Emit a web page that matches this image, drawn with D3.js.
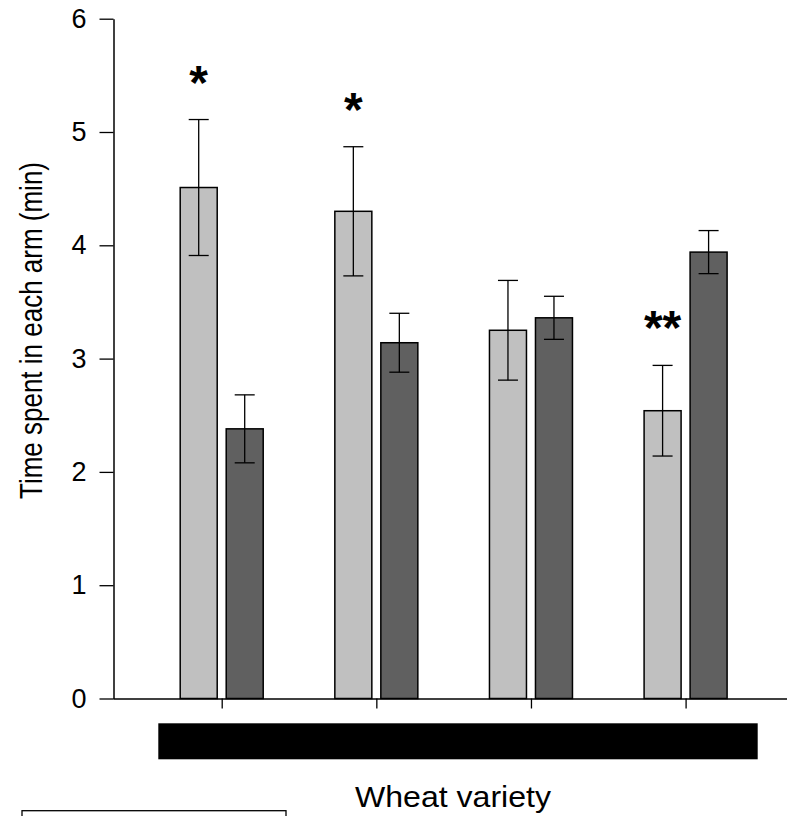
<!DOCTYPE html>
<html>
<head>
<meta charset="utf-8">
<script src="https://cdn.jsdelivr.net/npm/d3@7"></script>
<style>
  body { margin: 0; background: #fff; }
  svg { display: block; font-family: "Liberation Sans", Arial, sans-serif; }
</style>
</head>
<body>
<div id="chart"></div>
<script>
// wheat varieties (unlabelled in the figure), two arms each
const varieties = ["V1", "V2", "V3", "V4"]
const arms = ["light", "dark"]
const lightMean = [4.51, 4.30, 3.25, 2.54]
const lightErr = [0.60, 0.57, 0.44, 0.40]
const darkMean = [2.38, 3.14, 3.36, 3.94]
const darkErr = [0.30, 0.26, 0.19, 0.19]
const signif = ["*", "*", "", "**"]
const yTicks = [0, 1, 2, 3, 4, 5, 6]

const w = 787
const h = 816
const armColor = { light: "#c0c0c0", dark: "#606060" }

const svg = d3.select("#chart").append("svg")
    .attr("width", w)
    .attr("height", h)

const y = d3.scaleLinear().domain([0, 6]).range([698.5, 18.7])
const x = d3.scalePoint().domain(varieties).range([113, 794.3]).padding(0.703)
const xArm = d3.scalePoint().domain(arms).range([-23, 23])
const barW = 37

// build rows for the bars
let rows = []
varieties.forEach((v, i) => {
    rows.push({ v: v, arm: "light", mean: lightMean[i], err: lightErr[i], sig: signif[i] })
    rows.push({ v: v, arm: "dark", mean: darkMean[i], err: darkErr[i], sig: "" })
})

// y axis
const yAxis = svg.append("g")
    .attr("transform", "translate(113.5,0)")
    .call(d3.axisLeft(y).tickValues(yTicks).tickSize(14).tickSizeOuter(0).tickPadding(13).tickFormat(d3.format("d")))
yAxis.attr("font-size", 27).attr("font-family", "'Liberation Sans', Arial, sans-serif")
yAxis.select(".domain").attr("stroke", "#000").attr("stroke-width", 1.5)
yAxis.selectAll(".tick line").attr("stroke", "#000").attr("stroke-width", 1.3)
yAxis.selectAll(".tick text").attr("fill", "#000")

// bars
svg.selectAll(".bar")
    .data(rows)
    .enter().append("rect")
    .attr("class", "bar")
    .attr("x", d => x(d.v) + xArm(d.arm) - barW / 2)
    .attr("y", d => y(d.mean))
    .attr("width", barW)
    .attr("height", d => y(0) - y(d.mean))
    .attr("fill", d => armColor[d.arm])
    .attr("stroke", "#000")
    .attr("stroke-width", 1.5)

// error bars
const eb = svg.selectAll(".err")
    .data(rows)
    .enter().append("g")
    .attr("class", "err")
    .attr("stroke", "#000")
    .attr("stroke-width", 1.3)
eb.append("line")
    .attr("x1", d => x(d.v) + xArm(d.arm))
    .attr("x2", d => x(d.v) + xArm(d.arm))
    .attr("y1", d => y(d.mean + d.err))
    .attr("y2", d => y(d.mean - d.err))
eb.append("line")
    .attr("x1", d => x(d.v) + xArm(d.arm) - 10)
    .attr("x2", d => x(d.v) + xArm(d.arm) + 10)
    .attr("y1", d => y(d.mean + d.err))
    .attr("y2", d => y(d.mean + d.err))
eb.append("line")
    .attr("x1", d => x(d.v) + xArm(d.arm) - 10)
    .attr("x2", d => x(d.v) + xArm(d.arm) + 10)
    .attr("y1", d => y(d.mean - d.err))
    .attr("y2", d => y(d.mean - d.err))

// significance stars
svg.selectAll(".sig")
    .data(rows.filter(d => d.sig !== ""))
    .enter().append("text")
    .attr("class", "sig")
    .attr("x", d => x(d.v) + xArm(d.arm))
    .attr("y", d => y(d.mean + d.err) - 42 + 21)
    .attr("text-anchor", "middle")
    .attr("font-size", 48)
    .attr("font-weight", "bold")
    .text(d => d.sig)

// x axis (drawn after bars so baseline sits on top)
const xAxis = svg.append("g")
    .attr("transform", "translate(0," + y(0) + ")")
    .call(d3.axisBottom(x).tickSize(10).tickSizeOuter(0).tickFormat(""))
xAxis.select(".domain").attr("stroke", "#000").attr("stroke-width", 1.5)
xAxis.selectAll(".tick line").attr("stroke", "#000").attr("stroke-width", 1.3)

// black band under the axis
svg.append("rect")
    .attr("x", 158.3)
    .attr("y", 723.3)
    .attr("width", 599.4)
    .attr("height", 36)
    .attr("fill", "#000")

// axis titles
svg.append("text")
    .attr("x", 453)
    .attr("y", 806.5)
    .attr("text-anchor", "middle")
    .attr("font-size", 29)
    .attr("textLength", 196)
    .attr("lengthAdjust", "spacingAndGlyphs")
    .text("Wheat variety")

svg.append("text")
    .attr("transform", "translate(42,330.5) rotate(-90)")
    .attr("text-anchor", "middle")
    .attr("font-size", 32)
    .attr("textLength", 337)
    .attr("lengthAdjust", "spacingAndGlyphs")
    .text("Time spent in each arm (min)")

// legend box (cut off by the frame)
svg.append("rect")
    .attr("x", 22)
    .attr("y", 810.7)
    .attr("width", 264)
    .attr("height", 40)
    .attr("fill", "none")
    .attr("stroke", "#000")
    .attr("stroke-width", 1.3)
</script>
</body>
</html>
